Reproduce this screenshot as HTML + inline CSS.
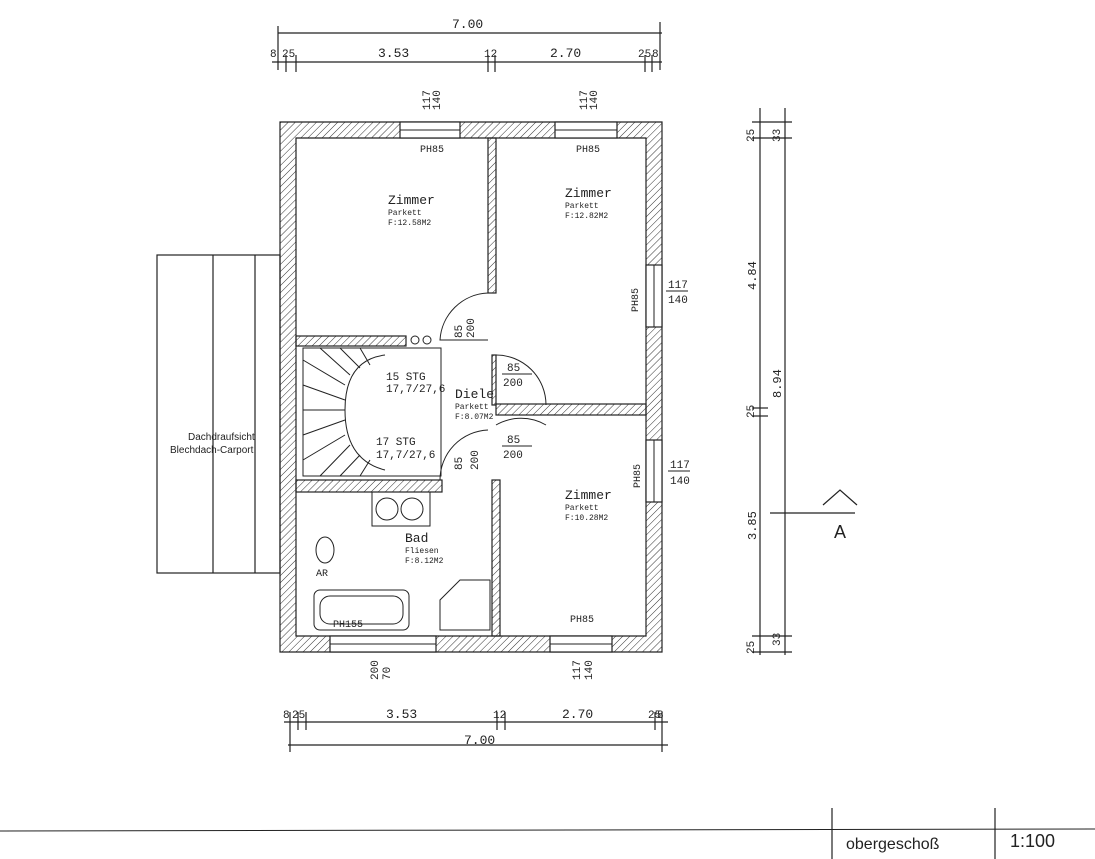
<!DOCTYPE html>
<html><head><meta charset="utf-8"><style>
html,body{margin:0;padding:0;background:#fff;}
svg{display:block;font-family:"Liberation Mono",monospace;}
</style></head><body>
<svg width="1095" height="859" viewBox="0 0 1095 859" xmlns="http://www.w3.org/2000/svg">
<defs>
<pattern id="h" width="5" height="5" patternUnits="userSpaceOnUse" patternTransform="rotate(45)">
<line x1="0" y1="0" x2="0" y2="5" stroke="#333" stroke-width="1"/>
</pattern>
</defs>
<rect width="1095" height="859" fill="#fff"/>
<g stroke="#222" stroke-width="1.2" fill="none">
<!-- top dims -->
<line x1="278" y1="33" x2="662" y2="33"/>
<line x1="278" y1="26" x2="278" y2="70"/><line x1="660" y1="22" x2="660" y2="70"/>
<line x1="272" y1="62" x2="662" y2="62"/>
<line x1="286" y1="55" x2="286" y2="72"/><line x1="296" y1="55" x2="296" y2="72"/>
<line x1="488" y1="55" x2="488" y2="72"/><line x1="495" y1="55" x2="495" y2="72"/>
<line x1="645" y1="55" x2="645" y2="72"/><line x1="652" y1="55" x2="652" y2="72"/>
<!-- bottom dims -->
<line x1="284" y1="722" x2="668" y2="722"/>
<line x1="288" y1="745" x2="668" y2="745"/>
<line x1="290" y1="712" x2="290" y2="752"/><line x1="298" y1="712" x2="298" y2="730"/><line x1="306" y1="712" x2="306" y2="730"/>
<line x1="497" y1="712" x2="497" y2="730"/><line x1="505" y1="712" x2="505" y2="730"/>
<line x1="655" y1="712" x2="655" y2="730"/><line x1="662" y1="712" x2="662" y2="752"/>
<!-- right dims -->
<line x1="760" y1="108" x2="760" y2="655"/>
<line x1="785" y1="108" x2="785" y2="655"/>
<line x1="752" y1="122" x2="792" y2="122"/><line x1="752" y1="138" x2="792" y2="138"/>
<line x1="752" y1="408" x2="768" y2="408"/><line x1="752" y1="416" x2="768" y2="416"/>
<line x1="752" y1="636" x2="792" y2="636"/><line x1="752" y1="652" x2="792" y2="652"/>
<!-- section A -->
<line x1="770" y1="513" x2="855" y2="513"/>
<polyline points="823,505 840,490 857,505"/>
<!-- carport -->
<rect x="157" y="255" width="123" height="318"/>
<line x1="213" y1="255" x2="213" y2="573"/><line x1="255" y1="255" x2="255" y2="573"/>
<!-- bottom title line -->
<line x1="0" y1="831" x2="1095" y2="829" stroke-width="1"/>
<line x1="832" y1="808" x2="832" y2="859"/><line x1="995" y1="808" x2="995" y2="859"/>
</g>
<!-- walls -->
<g stroke="#222" stroke-width="1.2" fill="url(#h)">
<path fill-rule="evenodd" d="M280 122 H662 V652 H280 Z M296 138 V636 H646 V138 Z"/>
<rect x="488" y="138" width="8" height="155"/>
<rect x="296" y="336" width="110" height="10"/>
<rect x="496" y="404" width="150" height="11"/>
<rect x="296" y="480" width="146" height="12"/>
<rect x="492" y="480" width="8" height="156"/>
<rect x="492" y="355" width="4" height="50"/>
</g>
<!-- windows -->
<g fill="#fff" stroke="#222" stroke-width="1.2">
<rect x="400" y="122" width="60" height="16"/><rect x="555" y="122" width="62" height="16"/>
<rect x="646" y="265" width="16" height="62"/><rect x="646" y="440" width="16" height="62"/>
<rect x="330" y="636" width="106" height="16"/><rect x="550" y="636" width="62" height="16"/>
</g>
<g stroke="#222" stroke-width="1" fill="none">
<line x1="400" y1="130" x2="460" y2="130"/><line x1="555" y1="130" x2="617" y2="130"/>
<line x1="654" y1="265" x2="654" y2="327"/><line x1="654" y1="440" x2="654" y2="502"/>
<line x1="330" y1="644" x2="436" y2="644"/><line x1="550" y1="644" x2="612" y2="644"/>
<!-- doors -->
<path d="M488 293 A50 50 0 0 0 440 340 L488 340"/>
<path d="M496 355 A50 50 0 0 1 546 405"/>
<path d="M496 425 A50 50 0 0 1 546 425"/>
<path d="M488 430 A50 50 0 0 0 440 480"/>
<!-- stairs -->
<rect x="303" y="348" width="138" height="128"/>
<path d="M385 355 Q345 360 345 410 Q345 460 385 470"/>
<path d="M303 360 L345 385 M303 385 L345 400 M303 410 L345 410 M303 435 L345 420 M303 460 L345 435 M320 348 L350 375 M340 348 L360 368 M360 348 L370 365 M320 476 L350 445 M340 476 L360 455 M360 476 L370 460"/>
<circle cx="415" cy="340" r="4"/><circle cx="427" cy="340" r="4"/>
<!-- bath -->
<rect x="372" y="492" width="58" height="34"/><circle cx="387" cy="509" r="11"/><circle cx="412" cy="509" r="11"/>
<ellipse cx="325" cy="550" rx="9" ry="13"/>
<rect x="314" y="590" width="95" height="40" rx="6"/><rect x="320" y="596" width="83" height="28" rx="10"/>
<path d="M440 630 V600 L460 580 H490 V630 Z"/>
</g>
<!-- text -->
<g fill="#222" font-size="11">
<text x="452" y="28" font-size="13">7.00</text>
<text x="270" y="57">8</text><text x="282" y="57">25</text>
<text x="378" y="57" font-size="13">3.53</text>
<text x="484" y="57">12</text>
<text x="550" y="57" font-size="13">2.70</text>
<text x="638" y="57">25</text><text x="652" y="57">8</text>
<text x="283" y="718">8</text><text x="292" y="718">25</text>
<text x="386" y="718" font-size="13">3.53</text>
<text x="493" y="718">12</text>
<text x="562" y="718" font-size="13">2.70</text>
<text x="648" y="718">25</text><text x="657" y="718">8</text>
<text x="464" y="744" font-size="13">7.00</text>
<text x="420" y="152" font-size="10">PH85</text><text x="576" y="152" font-size="10">PH85</text>
<text x="570" y="622" font-size="10">PH85</text><text x="333" y="627" font-size="10">PH155</text>
<text x="388" y="204" font-size="13">Zimmer</text><text x="388" y="215" font-size="8">Parkett</text><text x="388" y="225" font-size="8">F:12.58M2</text>
<text x="565" y="197" font-size="13">Zimmer</text><text x="565" y="208" font-size="8">Parkett</text><text x="565" y="218" font-size="8">F:12.82M2</text>
<text x="565" y="499" font-size="13">Zimmer</text><text x="565" y="510" font-size="8">Parkett</text><text x="565" y="520" font-size="8">F:10.28M2</text>
<text x="455" y="398" font-size="13">Diele</text><text x="455" y="409" font-size="8">Parkett</text><text x="455" y="419" font-size="8">F:8.07M2</text>
<text x="405" y="542" font-size="13">Bad</text><text x="405" y="553" font-size="8">Fliesen</text><text x="405" y="563" font-size="8">F:8.12M2</text>
<text x="386" y="380" font-size="11">15 STG</text><text x="386" y="392" font-size="11">17,7/27,6</text>
<text x="376" y="445" font-size="11">17 STG</text><text x="376" y="458" font-size="11">17,7/27,6</text>
<text x="507" y="371">85</text><line x1="502" y1="374" x2="532" y2="374" stroke="#222"/><text x="503" y="386">200</text>
<text x="507" y="443">85</text><line x1="502" y1="446" x2="532" y2="446" stroke="#222"/><text x="503" y="458">200</text>
<text x="668" y="288">117</text><line x1="666" y1="291" x2="688" y2="291" stroke="#222"/><text x="668" y="303">140</text>
<text x="670" y="468">117</text><line x1="668" y1="471" x2="690" y2="471" stroke="#222"/><text x="670" y="484">140</text>
<text x="316" y="576" font-size="10">AR</text>
<text x="188" y="440" font-family="Liberation Sans" font-size="10">Dachdraufsicht</text>
<text x="170" y="453" font-family="Liberation Sans" font-size="10">Blechdach-Carport</text>
<text x="834" y="538" font-family="Liberation Sans" font-size="18">A</text>
<text x="846" y="849" font-family="Liberation Sans" font-size="16">obergeschoß</text>
<text x="1010" y="847" font-family="Liberation Sans" font-size="18">1:100</text>
</g>
<g fill="#222" font-size="11">
<text transform="translate(430,110) rotate(-90)">117</text><text transform="translate(440,110) rotate(-90)">140</text>
<text transform="translate(587,110) rotate(-90)">117</text><text transform="translate(597,110) rotate(-90)">140</text>
<text transform="translate(580,680) rotate(-90)">117</text><text transform="translate(592,680) rotate(-90)">140</text>
<text transform="translate(378,680) rotate(-90)">200</text><text transform="translate(390,680) rotate(-90)">70</text>
<text transform="translate(462,338) rotate(-90)">85</text><text transform="translate(474,338) rotate(-90)">200</text>
<text transform="translate(462,470) rotate(-90)">85</text><text transform="translate(478,470) rotate(-90)">200</text>
<text transform="translate(638,312) rotate(-90)" font-size="10">PH85</text>
<text transform="translate(640,488) rotate(-90)" font-size="10">PH85</text>
<text transform="translate(756,290) rotate(-90)" font-size="12">4.84</text>
<text transform="translate(781,398) rotate(-90)" font-size="12">8.94</text>
<text transform="translate(756,540) rotate(-90)" font-size="12">3.85</text>
<text transform="translate(754,418) rotate(-90)">25</text>
<text transform="translate(754,142) rotate(-90)">25</text><text transform="translate(780,142) rotate(-90)">33</text>
<text transform="translate(754,654) rotate(-90)">25</text><text transform="translate(780,646) rotate(-90)">33</text>
</g>
</svg>
</body></html>
